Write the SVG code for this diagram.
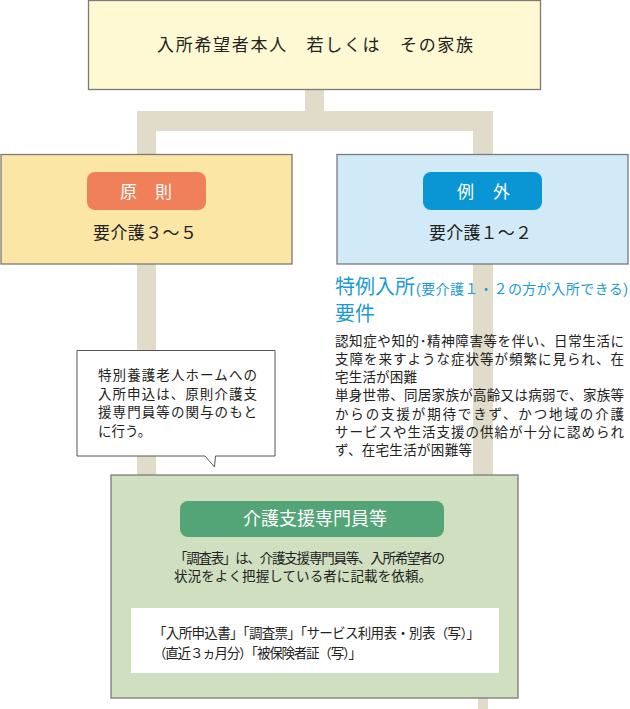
<svg xmlns="http://www.w3.org/2000/svg" width="630" height="709" viewBox="0 0 630 709">
<style>
.box{stroke:#7a7a7a;stroke-width:1.3}
.conn{fill:#e1dbca}
.ser{font-family:"Liberation Serif","Noto Sans CJK JP",serif;fill:#222}
.sans{font-family:"Liberation Sans","Noto Sans CJK JP",sans-serif;fill:#222}
.wt{fill:#fff}
.blue{fill:#1b9ad6}
</style>
<rect width="630" height="709" fill="#fff"/>
<g id="connectors">
<rect class="conn" x="305" y="89" width="19" height="24"/>
<rect class="conn" x="137" y="111" width="356" height="20"/>
<rect class="conn" x="137" y="111" width="19" height="370"/>
<rect class="conn" x="473" y="111" width="20" height="580"/>
<rect class="conn" x="478" y="690" width="10" height="19"/>
</g>
<g id="applicant">
<rect class="box" x="88.5" y="0.5" width="452" height="89" fill="#fef9d3"/>
<text class="ser" x="157" y="51" font-size="17" textLength="316">入所希望者本人　若しくは　その家族</text>
</g>
<g id="principle">
<rect class="box" x="1" y="154.5" width="291" height="109.5" fill="#fce6a6"/>
<rect x="87" y="172" width="119" height="38" rx="8" fill="#f0805a"/>
<text class="ser wt" x="120" y="198" font-size="17" textLength="52">原　則</text>
<text class="ser" x="93" y="239" font-size="17" textLength="104">要介護３～５</text>
</g>
<g id="exception">
<rect class="box" x="337" y="154.5" width="291" height="109.5" fill="#d2eaf8"/>
<rect x="423" y="172" width="119" height="38" rx="8" fill="#0a96d4"/>
<text class="ser wt" x="457" y="198" font-size="17" textLength="53">例　外</text>
<text class="ser" x="429" y="239" font-size="17" textLength="103">要介護１～２</text>
</g>
<g id="requirements">
<text class="sans blue" x="335" y="294" font-size="20">特例入所</text>
<text class="sans blue" x="416" y="294" font-size="14" textLength="212">(要介護１・２の方が入所できる)</text>
<text class="sans blue" x="335" y="321" font-size="20">要件</text>
<text class="sans" x="335" y="345.5" font-size="13.5" textLength="289">認知症や知的･精神障害等を伴い、日常生活に</text>
<text class="sans" x="335" y="363.8" font-size="13.5" textLength="289">支障を来すような症状等が頻繁に見られ、在</text>
<text class="sans" x="335" y="382.1" font-size="13.5" textLength="82">宅生活が困難</text>
<text class="sans" x="335" y="400.4" font-size="13.5" textLength="289">単身世帯、同居家族が高齢又は病弱で、家族等</text>
<text class="sans" x="335" y="418.7" font-size="13.5" textLength="289">からの支援が期待できず、かつ地域の介護</text>
<text class="sans" x="335" y="437" font-size="13.5" textLength="289">サービスや生活支援の供給が十分に認められ</text>
<text class="sans" x="335" y="455.3" font-size="13.5" textLength="137">ず、在宅生活が困難等</text>
</g>
<g id="note">
<path d="M77,350.5 H275 V456 H215.5 L214.5,467 L205,456 H77 Z" fill="#fff" stroke="#555" stroke-width="1"/>
<text class="sans" x="98" y="380" font-size="13.5" textLength="159">特別養護老人ホームへの</text>
<text class="sans" x="98" y="398.5" font-size="13.5" textLength="159">入所申込は、原則介護支</text>
<text class="sans" x="98" y="417" font-size="13.5" textLength="159">援専門員等の関与のもと</text>
<text class="sans" x="98" y="436" font-size="13.5">に行う。</text>
</g>
<g id="care-manager">
<rect class="box" x="111" y="475" width="407" height="223" fill="#cfdfbf"/>
<rect x="180" y="501" width="264" height="36" rx="8" fill="#53a477"/>
<text class="ser wt" x="243" y="525" font-size="18" textLength="144">介護支援専門員等</text>
<text class="sans" x="174" y="562.5" font-size="13.5" textLength="271">「調査表」は、介護支援専門員等、入所希望者の</text>
<text class="sans" x="174" y="581" font-size="13.5" textLength="258">状況をよく把握している者に記載を依頼。</text>
<rect x="131" y="608" width="368" height="65" fill="#fff"/>
<text class="sans" x="153" y="638" font-size="13.5" textLength="327">「入所申込書」「調査票」「サービス利用表・別表（写）」</text>
<text class="sans" x="153" y="657.5" font-size="13.5" textLength="209">（直近３ヵ月分）「被保険者証（写）」</text>
</g>
</svg>
